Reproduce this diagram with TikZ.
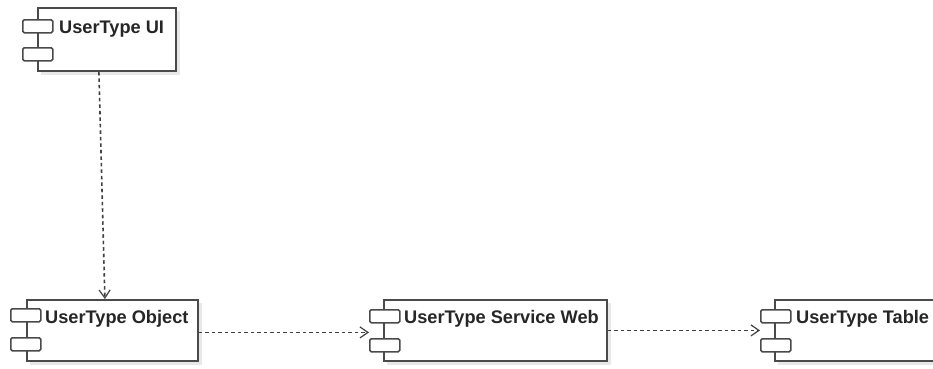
\documentclass[tikz,border=0pt]{standalone}
\usepackage{fontspec}
\setmainfont{Liberation Sans}
\usetikzlibrary{arrows.meta,calc}
\definecolor{edge}{HTML}{4A4A4A}
\tikzset{
  comp/.style={draw=edge, line width=1.8pt, fill=white, inner sep=0pt, anchor=north west},
  port/.style={draw=edge, line width=1.5pt, fill=white, rounded corners=1.5pt, inner sep=0pt,
     minimum width=30pt, minimum height=13pt, anchor=north west},
  shade/.style={fill=black!9, draw=none},
  lbl/.style={font=\bfseries\fontsize{18.2}{21}\selectfont, text=black!85, inner sep=0pt, anchor=base west},
  dep/.style={draw=black!75, line width=1.6pt, dash pattern=on 3.5pt off 3pt,
     -{Straight Barb[length=8pt,width=11pt,line width=1.2pt]}}
}
\begin{document}
\begin{tikzpicture}[x=1pt,y=-1pt]
\useasboundingbox (0,0) rectangle (933,368);
\clip (0,0) rectangle (933,368);
% shadows
\fill[shade] (41,11) rectangle (180,75);
\fill[shade] (30,303) rectangle (202,365);
\fill[shade] (387,303) rectangle (611,365);
\fill[shade] (778,303) rectangle (955,365);
% components
\node[comp, minimum width=138pt, minimum height=63pt] (ui) at (37,7) {};
\node[port] (uiA) at (22,19) {};
\node[port] (uiB) at (22,47) {};
\node[lbl] (uiL) at ([xshift=22pt,yshift=-26pt]ui.north west) {UserType UI};

\node[comp, minimum width=171pt, minimum height=61pt] (obj) at (26,299) {};
\node[port] (objA) at (10,308) {};
\node[port] (objB) at (10,337) {};
\node[lbl] (objL) at ([xshift=19pt,yshift=-24pt]obj.north west) {UserType Object};

\node[comp, minimum width=223pt, minimum height=61pt] (svc) at (383,299) {};
\node[port] (svcA) at (369,309) {};
\node[port] (svcB) at (369,338) {};
\node[lbl] (svcL) at ([xshift=21pt,yshift=-24pt]svc.north west) {UserType Service Web};

\node[comp, minimum width=176pt, minimum height=61pt] (tab) at (774,299) {};
\node[port] (tabA) at (760,309) {};
\node[port] (tabB) at (760,338) {};
\node[lbl] (tabL) at ([xshift=22pt,yshift=-24pt]tab.north west) {UserType Table};
% dependencies
\coordinate (objOut) at ([yshift=-2pt]obj.east);
\draw[dep] ([xshift=-8pt]ui.south) -- ([xshift=-7.5pt]obj.north);
\draw[dep] (objOut) -- (svcA.west |- objOut);
\draw[dep] (svc.east) -- (tabA.west |- svc.east);
\end{tikzpicture}
\end{document}
